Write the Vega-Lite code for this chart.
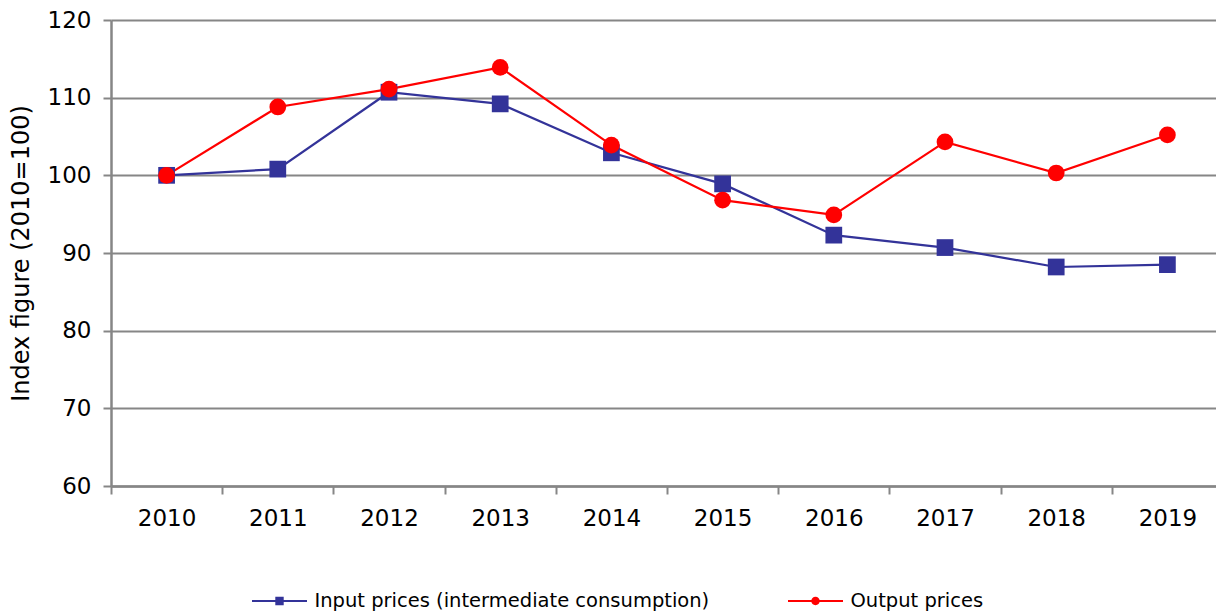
{
  "$schema": "https://vega.github.io/schema/vega-lite/v6.json",
  "autosize": "none",
  "width": 1105,
  "height": 466,
  "padding": {"left": 111, "top": 20, "right": 0, "bottom": 126},
  "background": "white",
  "config": {
    "font": "DejaVu Sans",
    "view": {"stroke": null},
    "axis": {"labelFont": "DejaVu Sans", "titleFont": "DejaVu Sans", "labelColor": "black", "titleColor": "black", "domainColor": "#868686", "tickColor": "#868686", "gridColor": "#868686", "domainWidth": 2.5, "tickWidth": 2, "gridWidth": 2, "tickSize": 8},
    "legend": {"labelFont": "DejaVu Sans", "labelFontSize": 19.5, "labelColor": "black", "labelLimit": 1000, "symbolOpacity": 1, "symbolStrokeWidth": 0, "symbolSize": 400, "padding": 0, "labelOffset": 25}
  },
  "data": {
    "values": [
      {"year": "2010", "series": "Input prices (intermediate consumption)", "value": 100.0},
      {"year": "2011", "series": "Input prices (intermediate consumption)", "value": 100.8},
      {"year": "2012", "series": "Input prices (intermediate consumption)", "value": 110.7},
      {"year": "2013", "series": "Input prices (intermediate consumption)", "value": 109.2},
      {"year": "2014", "series": "Input prices (intermediate consumption)", "value": 102.9},
      {"year": "2015", "series": "Input prices (intermediate consumption)", "value": 98.9},
      {"year": "2016", "series": "Input prices (intermediate consumption)", "value": 92.3},
      {"year": "2017", "series": "Input prices (intermediate consumption)", "value": 90.7},
      {"year": "2018", "series": "Input prices (intermediate consumption)", "value": 88.2},
      {"year": "2019", "series": "Input prices (intermediate consumption)", "value": 88.5},
      {"year": "2010", "series": "Output prices", "value": 100.0},
      {"year": "2011", "series": "Output prices", "value": 108.8},
      {"year": "2012", "series": "Output prices", "value": 111.1},
      {"year": "2013", "series": "Output prices", "value": 113.9},
      {"year": "2014", "series": "Output prices", "value": 103.9},
      {"year": "2015", "series": "Output prices", "value": 96.8},
      {"year": "2016", "series": "Output prices", "value": 94.9},
      {"year": "2017", "series": "Output prices", "value": 104.3},
      {"year": "2018", "series": "Output prices", "value": 100.3},
      {"year": "2019", "series": "Output prices", "value": 105.2}
    ]
  },
  "encoding": {
    "x": {
      "field": "year", "type": "ordinal",
      "scale": {"range": [0, 1112], "paddingInner": 0, "paddingOuter": 0},
      "axis": {"title": null, "labelAngle": 0, "labelFontSize": 23, "labelPadding": 13, "tickBand": "extent", "grid": false}
    },
    "y": {
      "field": "value", "type": "quantitative",
      "scale": {"domain": [60, 120], "nice": false, "zero": false},
      "axis": {"title": "Index figure (2010=100)", "titleFontSize": 24, "titleFontWeight": "normal", "titlePadding": 14, "labelFontSize": 23, "labelPadding": 12, "values": [60, 70, 80, 90, 100, 110, 120], "grid": true}
    }
  },
  "layer": [
    {
      "mark": {"type": "line", "strokeWidth": 2.2},
      "encoding": {
        "color": {"field": "series", "type": "nominal", "scale": {"domain": ["Input prices (intermediate consumption)", "Output prices"], "range": ["#333399", "#FF0000"]}, "legend": null}
      }
    },
    {
      "mark": {"type": "point", "filled": true, "opacity": 1, "size": 280},
      "encoding": {
        "color": {"field": "series", "type": "nominal", "legend": null},
        "shape": {"field": "series", "type": "nominal", "scale": {"domain": ["Input prices (intermediate consumption)", "Output prices"], "range": ["square", "circle"]}, "legend": null}
      }
    },
    {
      "transform": [{"filter": "datum.series === 'Input prices (intermediate consumption)'"}],
      "mark": {"type": "point", "filled": true, "opacity": 0, "size": 400, "fill": "#333399"},
      "encoding": {
        "shape": {
          "field": "series", "type": "nominal",
          "scale": {"domain": ["Input prices (intermediate consumption)"], "range": ["M-2.75,-0.11H2.75V0.11H-2.75ZM-0.42,-0.42H0.42V0.42H-0.42Z"]},
          "legend": {
            "title": null, "orient": "none", "legendX": 158.5, "legendY": 571,
            "symbolFillColor": "#333399"
          }
        }
      }
    },
    {
      "transform": [{"filter": "datum.series === 'Output prices'"}],
      "mark": {"type": "point", "filled": true, "opacity": 0, "size": 400, "fill": "#FF0000"},
      "encoding": {
        "shape": {
          "field": "series", "type": "nominal",
          "scale": {"domain": ["Output prices"], "range": ["M-2.75,-0.11H2.75V0.11H-2.75ZM0.42,0A0.42,0.42 0 1,1 -0.42,0A0.42,0.42 0 1,1 0.42,0Z"]},
          "legend": {
            "title": null, "orient": "none", "legendX": 694.5, "legendY": 571,
            "symbolFillColor": "#FF0000"
          }
        }
      }
    }
  ],
  "resolve": {"scale": {"shape": "independent"}}
}
